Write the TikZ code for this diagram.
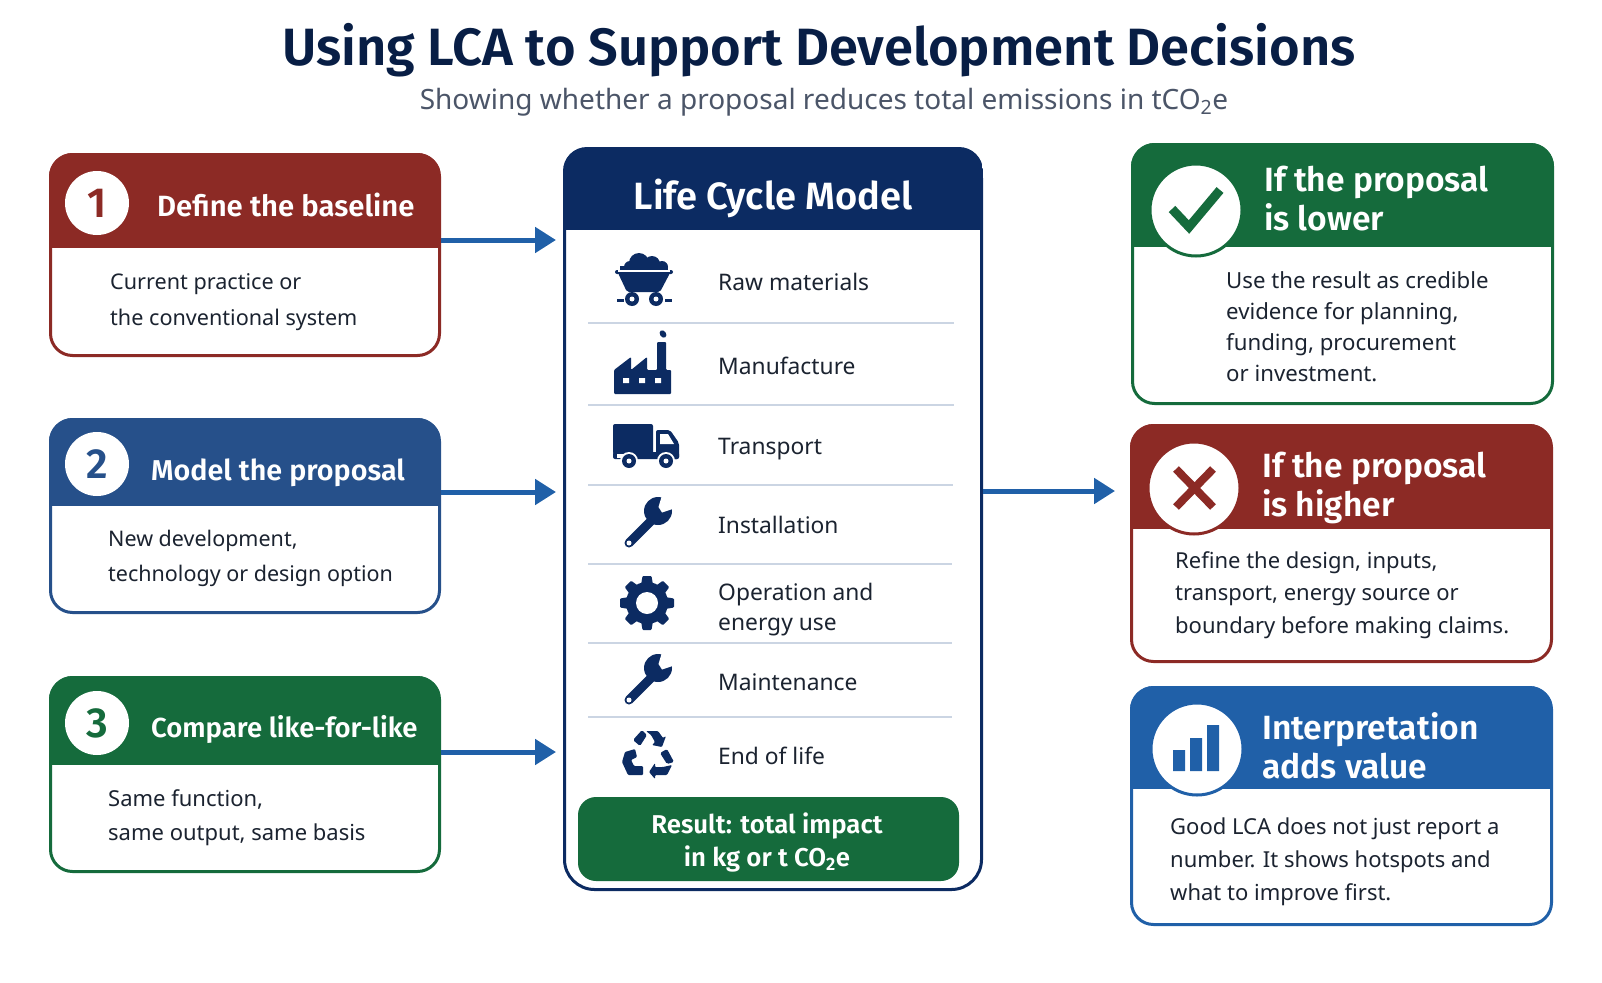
\documentclass[tikz,border=0pt]{standalone}
\usepackage{fontspec}
\setmainfont{Noto Sans}
\newfontfamily\boldface{Fira Sans}[UprightFont=* SemiBold]
\usetikzlibrary{arrows.meta, positioning, calc}
\definecolor{crimson}{HTML}{8C2A25}
\definecolor{midblue}{HTML}{26508A}
\definecolor{leaf}{HTML}{156B3C}
\definecolor{navy}{HTML}{0C2B62}
\definecolor{sky}{HTML}{2060A8}
\definecolor{ink}{HTML}{1B2330}
\definecolor{slate}{HTML}{4B5568}
\definecolor{rowrule}{HTML}{CBD5E3}
\newcommand{\px}[2]{\fontsize{#1}{#2}\selectfont}
\newcommand{\cardhead}[3]{%
  \begin{scope}
    \clip[rounded corners=24pt] (#1.south west) rectangle (#1.north east);
    \fill[#2] (#1.north west) rectangle (#1.east |- 0,#3);
  \end{scope}}
\tikzset{
    cardbase/.style={rectangle, rounded corners=22pt, draw=#1, line width=3pt, fill=white, inner sep=0pt},
    headtext/.style={anchor=west, inner sep=0pt, align=left, text=white, font=\boldface\px{33.6}{39}, execute at begin node=\strut, execute at end node=\strut},
    stephead/.style={headtext, font=\boldface\px{#1}{36}},
    bodytext/.style={anchor=west, inner sep=0pt, align=left, text=ink, font=\px{22}{#1}, execute at begin node=\strut, execute at end node=\strut},
    rowtext/.style={bodytext=30, font=\px{22.8}{30}},
    stepbadge/.style={circle, fill=white, minimum size=64pt, inner sep=0pt, text=#1, font=\boldface\px{42}{42}},
    bigbadge/.style={circle, fill=white, draw=#1, line width=3pt, minimum size=92pt, inner sep=0pt},
    flowarrow/.style={-{Triangle[length=21pt,width=25pt]}, line width=5pt, sky},
    rowline/.style={rowrule, line width=1.6pt},
    cartpic/.pic={
      \fill[navy] (-14,-13) circle[radius=6] (-5,-17) circle[radius=10] (8,-16) circle[radius=8] (18,-13) circle[radius=6];
      \fill[navy] (-24,-14) rectangle (24,-7);
      \fill[navy,rounded corners=2pt] (-29,-10) rectangle (29,-6);
      \fill[navy,rounded corners=2pt] (-26,-7) -- (26,-7) -- (16,12) -- (-17,12) -- cycle;
      \draw[white,line width=1.2pt] (-26,-9) -- (26,-9);
      \fill[navy] (-12,19) circle[radius=7] (12,19) circle[radius=7];
      \fill[white] (-12,19) circle[radius=2.5] (12,19) circle[radius=2.5];
      \draw[navy,line width=3pt] (-27,20) -- (-20,20) (21,20) -- (28,20);
    },
    factorypic/.pic={
      \fill[navy,rounded corners=1pt] (-29,39) -- (-29,15) -- (-12,2) -- (-12,15) -- (4,2) -- (4,15) -- (14,15) -- (14,-13) -- (23,-13) -- (23,15) -- (28,15) -- (28,39) -- cycle;
      \fill[navy,rotate around={35:(20,-21)}] (20,-21) ellipse[x radius=3,y radius=4];
      \fill[white] (-20,23) rectangle (-14,28) (-4,23) rectangle (2,28) (12,23) rectangle (18,28);
    },
    truckpic/.pic={
      \fill[navy,rounded corners=2pt] (-33,-22) rectangle (7,8);
      \fill[navy,rounded corners=2pt] (-33,6) rectangle (33,13);
      \fill[navy,rounded corners=2pt] (10,-16) -- (24,-16) -- (33,-3) -- (33,13) -- (10,13) -- cycle;
      \fill[white] (14,-12) -- (22,-12) -- (28,-2) -- (14,-2) -- cycle;
      \fill[white] (-29,8) rectangle (-20,12);
      \fill[white] (-17,15) circle[radius=9] (20,15) circle[radius=9];
      \fill[navy] (-17,15) circle[radius=7] (20,15) circle[radius=7];
      \fill[white] (-17,15) circle[radius=2.5] (20,15) circle[radius=2.5];
    },
    wrenchpic/.pic={
      \draw[navy,line width=9pt,line cap=round] (-19,19) -- (6,-6);
      \fill[navy] (10,-13) circle[radius=14];
      \fill[white] (13.5,-27) -- (10.5,-17) -- (14,-11.5) -- (26,-15.5) -- (35,-30) -- (20,-38) -- cycle;
      \fill[white] (-19,19) circle[radius=2.5];
    },
    gearpic/.pic={
      \foreach \a in {0,45,...,315}
        \fill[navy,rotate=\a,rounded corners=1pt] (-6,-18) -- (-4.5,-27) -- (4.5,-27) -- (6,-18) -- cycle;
      \fill[navy] (0,0) circle[radius=21];
      \fill[white] (0,0) circle[radius=11];
    },
    recyclepic/.pic={
      \fill[navy,rounded corners=1.5pt] (-15,-15) -- (-6,-25) -- (-1,-20) -- (-8,-9) -- cycle;
      \fill[navy,rounded corners=1pt] (-2,-24) -- (10,-24) -- (15,-17) -- (18,-19) -- (14,-8) -- (4,-10) -- (7,-13) -- (3,-20) -- cycle;
      \fill[navy,rounded corners=1.5pt] (12,-2) -- (19,-6) -- (26,7) -- (19,9) -- cycle;
      \fill[navy,rounded corners=1pt] (24,10) -- (19,20) -- (7,20) -- (7,24) -- (1,17) -- (7,8) -- (7,12) -- (15,12) -- cycle;
      \fill[navy,rounded corners=1pt] (-13,-6) -- (-23,-3) -- (-26,7) -- (-20,20) -- (-5,20) -- (-5,11) -- (-14,11) -- (-17,5) -- (-11,2) -- cycle;
    },
}
\begin{document}
\begin{tikzpicture}[x=1pt,y=-1pt]
\useasboundingbox (0,0) rectangle (1602,982);

% Title
\node[inner sep=0pt,font=\boldface\px{52.5}{60},text=navy!70!black] (title) at (819,50) {Using LCA to Support Development Decisions};
\node[inner sep=0pt,font=\px{28}{34},text=slate] (subtitle) at (824,102) {Showing whether a proposal reduces total emissions in tCO\textsubscript{2}e};

% Steps on the left
\node[cardbase=crimson,minimum width=389pt,minimum height=201pt] (base1) at (245,255) {};
\cardhead{base1}{crimson}{248}
\node[stepbadge=crimson] (badge1) at (97,203) {1};
\node[stephead=29.3] (head1) at (157,209) {Define the baseline};
\node[bodytext=36,font=\px{21.6}{36}] (body1) at (110,305) {Current practice or\\the conventional system};

\node[cardbase=midblue,minimum width=389pt,minimum height=193pt] (base2) at (245,516) {};
\cardhead{base2}{midblue}{506}
\node[stepbadge=midblue] (badge2) at (97,464) {2};
\node[stephead=28.7] (head2) at (151,473) {Model the proposal};
\node[bodytext=35,font=\px{21.5}{35}] (body2) at (108,561) {New development,\\technology or design option};

\node[cardbase=leaf,minimum width=389pt,minimum height=194pt] (base3) at (245,774.5) {};
\cardhead{base3}{leaf}{765}
\node[stepbadge=leaf] (badge3) at (97,723) {3};
\node[stephead=27.5] (head3) at (151,730) {Compare like-for-like};
\node[bodytext=34] (body3) at (108,820) {Same function,\\same output, same basis};

% Life cycle panel
\node[cardbase=navy,rounded corners=30pt,minimum width=417pt,minimum height=741pt] (panel) at (773,519) {};
\cardhead{panel}{navy}{230}
\node[inner sep=0pt,font=\boldface\px{38}{42},text=white] (paneltitle) at (773,198) {Life Cycle Model};

\pic at (644,280) {cartpic};
\node[rowtext] (raw) at (718,284) {Raw materials};
\pic at (643,355) {factorypic};
\node[rowtext] (manu) at (718,368) {Manufacture};
\pic at (646,446) {truckpic};
\node[rowtext] (trans) at (718,448) {Transport};
\pic at (648,524) {wrenchpic};
\node[rowtext] (inst) at (718,527) {Installation};
\pic at (647,603) {gearpic};
\node[rowtext] (oper) at (718,611) {Operation and\\energy use};
\pic at (648,681) {wrenchpic};
\node[rowtext] (maint) at (718,684) {Maintenance};
\pic at (648,755) {recyclepic};
\node[rowtext] (eol) at (718,758) {End of life};

\foreach \y/\xr in {323/954,405/954,485/953,564/952,643/952,717/952}
  \draw[rowline] (588,\y) -- (\xr,\y);

\node[rectangle,rounded corners=18pt,fill=leaf,minimum width=381pt,minimum height=84pt,inner sep=0pt] (result) at (768.5,839) {};
\node[inner sep=0pt,align=center,text=white,font=\boldface\px{25.8}{33},execute at begin node=\strut,execute at end node=\strut] (resulttext) at (767,845) {Result: total impact\\in kg or t CO\textsubscript{2}e};

% Outcomes on the right
\node[cardbase=leaf,minimum width=420pt,minimum height=259pt] (baseA) at (1342.5,274) {};
\cardhead{baseA}{leaf}{247}
\node[bigbadge=leaf] (badgeA) at (1196,210) {};
\draw[leaf,line width=9pt] (1172,209) -- (1189,227) -- (1220,190);
\node[headtext] (headA) at (1264,204) {If the proposal\\is lower};
\node[bodytext=31,font=\px{22.2}{31}] (bodyA) at (1226,331) {Use the result as credible\\evidence for planning,\\funding, procurement\\or investment.};

\node[cardbase=crimson,minimum width=420pt,minimum height=236pt] (baseB) at (1341.5,543.5) {};
\cardhead{baseB}{crimson}{529}
\node[bigbadge=crimson] (badgeB) at (1194,488) {};
\draw[crimson,line width=8pt] (1176,469) -- (1213,507) (1213,469) -- (1176,507);
\node[headtext] (headB) at (1262,490) {If the proposal\\is higher};
\node[bodytext=32.5] (bodyB) at (1175,597) {Refine the design, inputs,\\transport, energy source or\\boundary before making claims.};

\node[cardbase=sky,minimum width=420pt,minimum height=237pt] (baseC) at (1341.5,806) {};
\cardhead{baseC}{sky}{789}
\node[bigbadge=sky] (badgeC) at (1197,749) {};
\fill[sky] (1173,750) rectangle (1185,771) (1190,738) rectangle (1202,771) (1207,725) rectangle (1219,771);
\node[headtext] (headC) at (1262,751) {Interpretation\\adds value};
\node[bodytext=33] (bodyC) at (1170,864) {Good LCA does not just report a\\number. It shows hotspots and\\what to improve first.};

% Connections
\coordinate (in1) at (556,240);
\coordinate (in2) at (556,492);
\coordinate (in3) at (556,752);
\coordinate (out) at (1115,491);
\draw[flowarrow] (base1.east |- in1) -- (in1);
\draw[flowarrow] (base2.east |- in2) -- (in2);
\draw[flowarrow] (base3.east |- in3) -- (in3);
\draw[flowarrow] (panel.east |- out) -- (out);
\end{tikzpicture}
\end{document}
